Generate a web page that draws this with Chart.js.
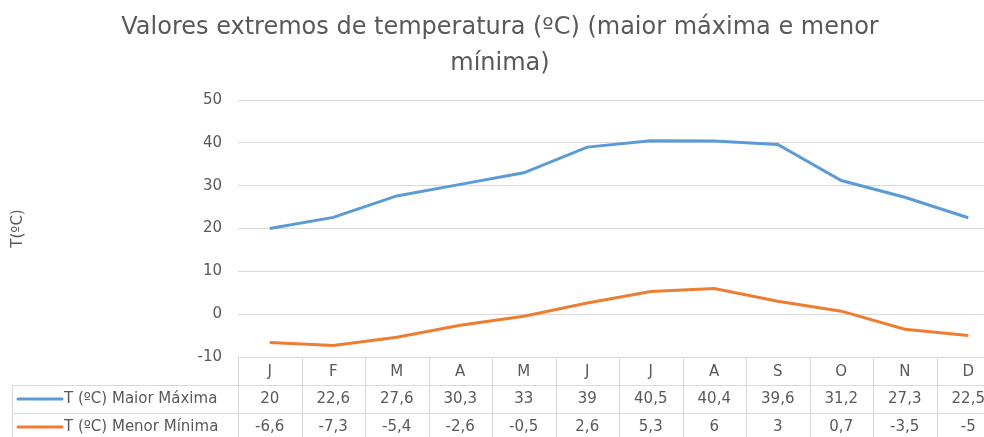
<!DOCTYPE html>
<html><head><meta charset="utf-8">
<script src="https://cdn.jsdelivr.net/npm/chart.js@4/dist/chart.umd.min.js"></script>
<style>html,body{margin:0;padding:0;overflow:hidden;background:#fff}#wrap{width:1000px;height:437px;position:relative}</style>
</head><body><div id="wrap"><canvas id="c" width="1000" height="437"></canvas></div>
<script>
const titleLines = ['Valores extremos de temperatura (ºC) (maior máxima e menor', 'mínima)'];
const months = ['J','F','M','A','M','J','J','A','S','O','N','D'];
const seriesNames = ['T (ºC) Maior Máxima', 'T (ºC) Menor Mínima'];
const maxTemps = [20, 22.6, 27.6, 30.3, 33, 39, 40.5, 40.4, 39.6, 31.2, 27.3, 22.5];
const minTemps = [-6.6, -7.3, -5.4, -2.6, -0.5, 2.6, 5.3, 6, 3, 0.7, -3.5, -5];
const yMin = -10, yMax = 50, yStep = 10;
const yTitle = 'T(ºC)';
const colors = ['#5B9BD5', '#ED7D31'];
const FONT = "'DejaVu Sans', sans-serif";
const GRAY = '#595959';
const GRID = '#d9d9d9';

const fmt = v => String(v).replace('.', ',');

const tablePlugin = {
  id: 'dataTable',
  afterDraw(chart) {
    const ctx = chart.ctx, x = chart.scales.x, ca = chart.chartArea;
    const H = chart.height;
    const colW = x.getPixelForValue(1) - x.getPixelForValue(0);
    const left = ca.left;
    const right = x.getPixelForValue(months.length - 1) + colW / 2;
    const top = ca.bottom;
    const rowH = 28;
    const tblLeft = 12;
    ctx.save();
    ctx.strokeStyle = GRID;
    ctx.lineWidth = 1;
    const line = (x1, y1, x2, y2) => { ctx.beginPath(); ctx.moveTo(x1, y1); ctx.lineTo(x2, y2); ctx.stroke(); };
    line(left, top + 0.5, right, top + 0.5);
    line(tblLeft, top + rowH + 0.5, right, top + rowH + 0.5);
    line(tblLeft, top + 2 * rowH + 0.5, right, top + 2 * rowH + 0.5);
    for (let i = 0; i <= months.length; i++) {
      const xb = Math.round(left + i * colW) + 0.5;
      line(xb, top, xb, H);
    }
    line(tblLeft + 0.5, top + rowH, tblLeft + 0.5, H);
    ctx.font = '15px ' + FONT;
    ctx.textBaseline = 'middle';
    const rows = [maxTemps, minTemps];
    rows.forEach((vals, r) => {
      const cy = top + rowH * (r + 1) + rowH / 2;
      ctx.strokeStyle = colors[r];
      ctx.lineWidth = 3;
      ctx.lineCap = 'round';
      line(18, cy, 62, cy);
      ctx.fillStyle = GRAY;
      ctx.textAlign = 'left';
      ctx.fillText(seriesNames[r], 64, cy);
      ctx.textAlign = 'center';
      vals.forEach((v, i) => ctx.fillText(fmt(v), x.getPixelForValue(i), cy));
    });
    ctx.restore();
  }
};

new Chart(document.getElementById('c'), {
  type: 'line',
  data: {
    labels: months,
    datasets: [
      { label: seriesNames[0], data: maxTemps, borderColor: colors[0], backgroundColor: colors[0], borderWidth: 3, pointRadius: 0, tension: 0 },
      { label: seriesNames[1], data: minTemps, borderColor: colors[1], backgroundColor: colors[1], borderWidth: 3, pointRadius: 0, tension: 0 }
    ]
  },
  options: {
    responsive: false,
    animation: false,
    devicePixelRatio: 1,
    layout: { padding: { left: 0, right: 0, top: 0, bottom: 0 } },
    plugins: {
      legend: { display: false },
      tooltip: { enabled: false },
      title: {
        display: true,
        text: titleLines,
        color: GRAY,
        font: { family: FONT, size: 24, weight: 'normal', lineHeight: 1.5 },
        padding: { top: 10, bottom: 18 }
      }
    },
    scales: {
      x: {
        offset: true,
        grid: { display: false, drawTicks: false },
        border: { display: false },
        ticks: { color: GRAY, font: { family: FONT, size: 15 }, padding: 6, maxRotation: 0, autoSkip: false },
        afterFit(s) { s.height = 80; }
      },
      y: {
        min: yMin, max: yMax,
        ticks: { stepSize: yStep, color: GRAY, font: { family: FONT, size: 15 }, padding: 16 },
        grid: { color: GRID, drawTicks: false },
        border: { display: false },
        title: { display: true, text: yTitle, color: GRAY, font: { family: FONT, size: 15 }, padding: { top: 9, bottom: 0 } },
        afterFit(s) { s.width = 238; }
      }
    }
  },
  plugins: [tablePlugin]
});
</script>
</body></html>
